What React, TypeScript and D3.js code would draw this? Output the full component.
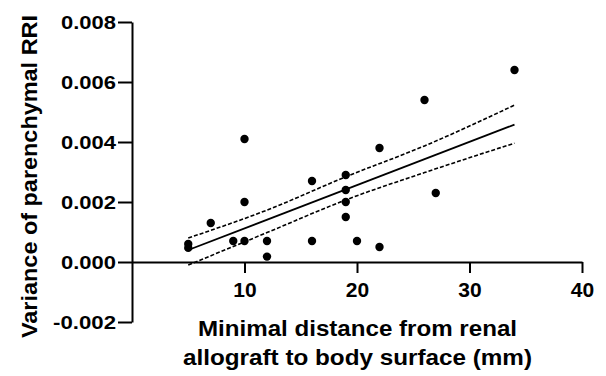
import { useEffect, useRef } from "react"
import * as d3 from "d3"

// distance (mm) and variance of parenchymal RRI
const distance = [5, 5, 7, 9, 10, 10, 10, 12, 12, 16, 16, 19, 19, 19, 19, 20, 22, 22, 26, 27, 34]
const variance = [
  0.0006, 0.00047, 0.0013, 0.0007, 0.0041, 0.002, 0.0007, 0.0007, 0.00018, 0.0027, 0.0007,
  0.0029, 0.0024, 0.002, 0.0015, 0.0007, 0.0038, 0.0005, 0.0054, 0.0023, 0.0064,
]

// regression line and its band
const fitX = [5, 34]
const fitY = [0.0004, 0.00458]
const bandX = [5, 12, 19, 26, 34]
const bandUpper = [0.0008, 0.00173, 0.00284, 0.00387, 0.00523]
const bandLower = [-0.0001, 0.00098, 0.00207, 0.00298, 0.00396]

const xTicks = [10, 20, 30, 40]
const yTicks = [-0.002, 0, 0.002, 0.004, 0.006, 0.008]
const yTickLabels = ["-0.002", "0.000", "0.002", "0.004", "0.006", "0.008"]

const W = 606
const H = 376
const FONT = "'Liberation Sans', Arial, sans-serif"

export default function App() {
  const svgRef = useRef<SVGSVGElement | null>(null)

  useEffect(() => {
    if (!svgRef.current) return
    const svg = d3.select(svgRef.current)
    svg.selectAll("*").remove()

    const x = d3.scaleLinear().domain([0, 40]).range([132, 582])
    const y = d3.scaleLinear().domain([-0.002, 0.008]).range([322, 22])

    // y axis
    const yAxis = svg
      .append("g")
      .attr("transform", `translate(${x(0)},0)`)
      .call(
        d3
          .axisLeft(y)
          .tickValues(yTicks)
          .tickSize(14)
          .tickSizeOuter(0)
          .tickPadding(2)
          .tickFormat((_, i) => yTickLabels[i]),
      )
    yAxis.select(".domain").attr("stroke-width", 2)
    yAxis.selectAll(".tick line").attr("stroke-width", 2)
    yAxis
      .selectAll(".tick text")
      .attr("font-family", FONT)
      .attr("font-size", 19)
      .attr("font-weight", "bold")
      .attr("fill", "#000")
      .attr("dy", "0.36em")
      .attr("textLength", (_, i) => (yTickLabels[i].startsWith("-") ? 63 : 55))
      .attr("lengthAdjust", "spacingAndGlyphs")

    // x axis sits at y = 0
    const xAxis = svg
      .append("g")
      .attr("transform", `translate(0,${y(0)})`)
      .call(d3.axisBottom(x).tickValues(xTicks).tickSize(11).tickSizeOuter(0).tickPadding(9))
    xAxis.select(".domain").attr("stroke-width", 2)
    xAxis.selectAll(".tick line").attr("stroke-width", 2)
    xAxis
      .selectAll(".tick text")
      .attr("font-family", FONT)
      .attr("font-size", 21)
      .attr("font-weight", "bold")
      .attr("fill", "#000")

    // confidence band
    const line = d3
      .line<number>()
      .x((d) => x(d))
      .curve(d3.curveMonotoneX)

    svg
      .append("path")
      .attr("fill", "none")
      .attr("stroke", "#000")
      .attr("stroke-width", 1.6)
      .attr("stroke-dasharray", "4,2")
      .attr("d", line.y((_, i) => y(bandUpper[i]))(bandX))

    svg
      .append("path")
      .attr("fill", "none")
      .attr("stroke", "#000")
      .attr("stroke-width", 1.6)
      .attr("stroke-dasharray", "4,2")
      .attr("d", line.y((_, i) => y(bandLower[i]))(bandX))

    // fit line
    svg
      .append("path")
      .attr("fill", "none")
      .attr("stroke", "#000")
      .attr("stroke-width", 1.8)
      .attr("d", d3.line<number>().x((d) => x(d)).y((_, i) => y(fitY[i]))(fitX))

    // points
    svg
      .selectAll(".dot")
      .data(distance)
      .enter()
      .append("circle")
      .attr("class", "dot")
      .attr("cx", (d) => x(d))
      .attr("cy", (_, i) => y(variance[i]))
      .attr("r", 4.2)
      .attr("fill", "#000")

    // titles
    svg
      .append("text")
      .attr("x", 357.5)
      .attr("y", 336)
      .attr("text-anchor", "middle")
      .attr("font-family", FONT)
      .attr("font-weight", "bold")
      .attr("font-size", 22)
      .attr("textLength", 319)
      .attr("lengthAdjust", "spacingAndGlyphs")
      .text("Minimal distance from renal")

    svg
      .append("text")
      .attr("x", 357.5)
      .attr("y", 365)
      .attr("text-anchor", "middle")
      .attr("font-family", FONT)
      .attr("font-weight", "bold")
      .attr("font-size", 22)
      .attr("textLength", 349)
      .attr("lengthAdjust", "spacingAndGlyphs")
      .text("allograft to body surface (mm)")

    svg
      .append("text")
      .attr("transform", "translate(37,176.5) rotate(-90)")
      .attr("text-anchor", "middle")
      .attr("font-family", FONT)
      .attr("font-weight", "bold")
      .attr("font-size", 22)
      .attr("textLength", 323)
      .attr("lengthAdjust", "spacingAndGlyphs")
      .text("Variance of parenchymal RRI")
  }, [])

  return (
    <svg
      ref={svgRef}
      width={W}
      height={H}
      style={{ position: "absolute", left: 0, top: 0, background: "#fff" }}
    />
  )
}
